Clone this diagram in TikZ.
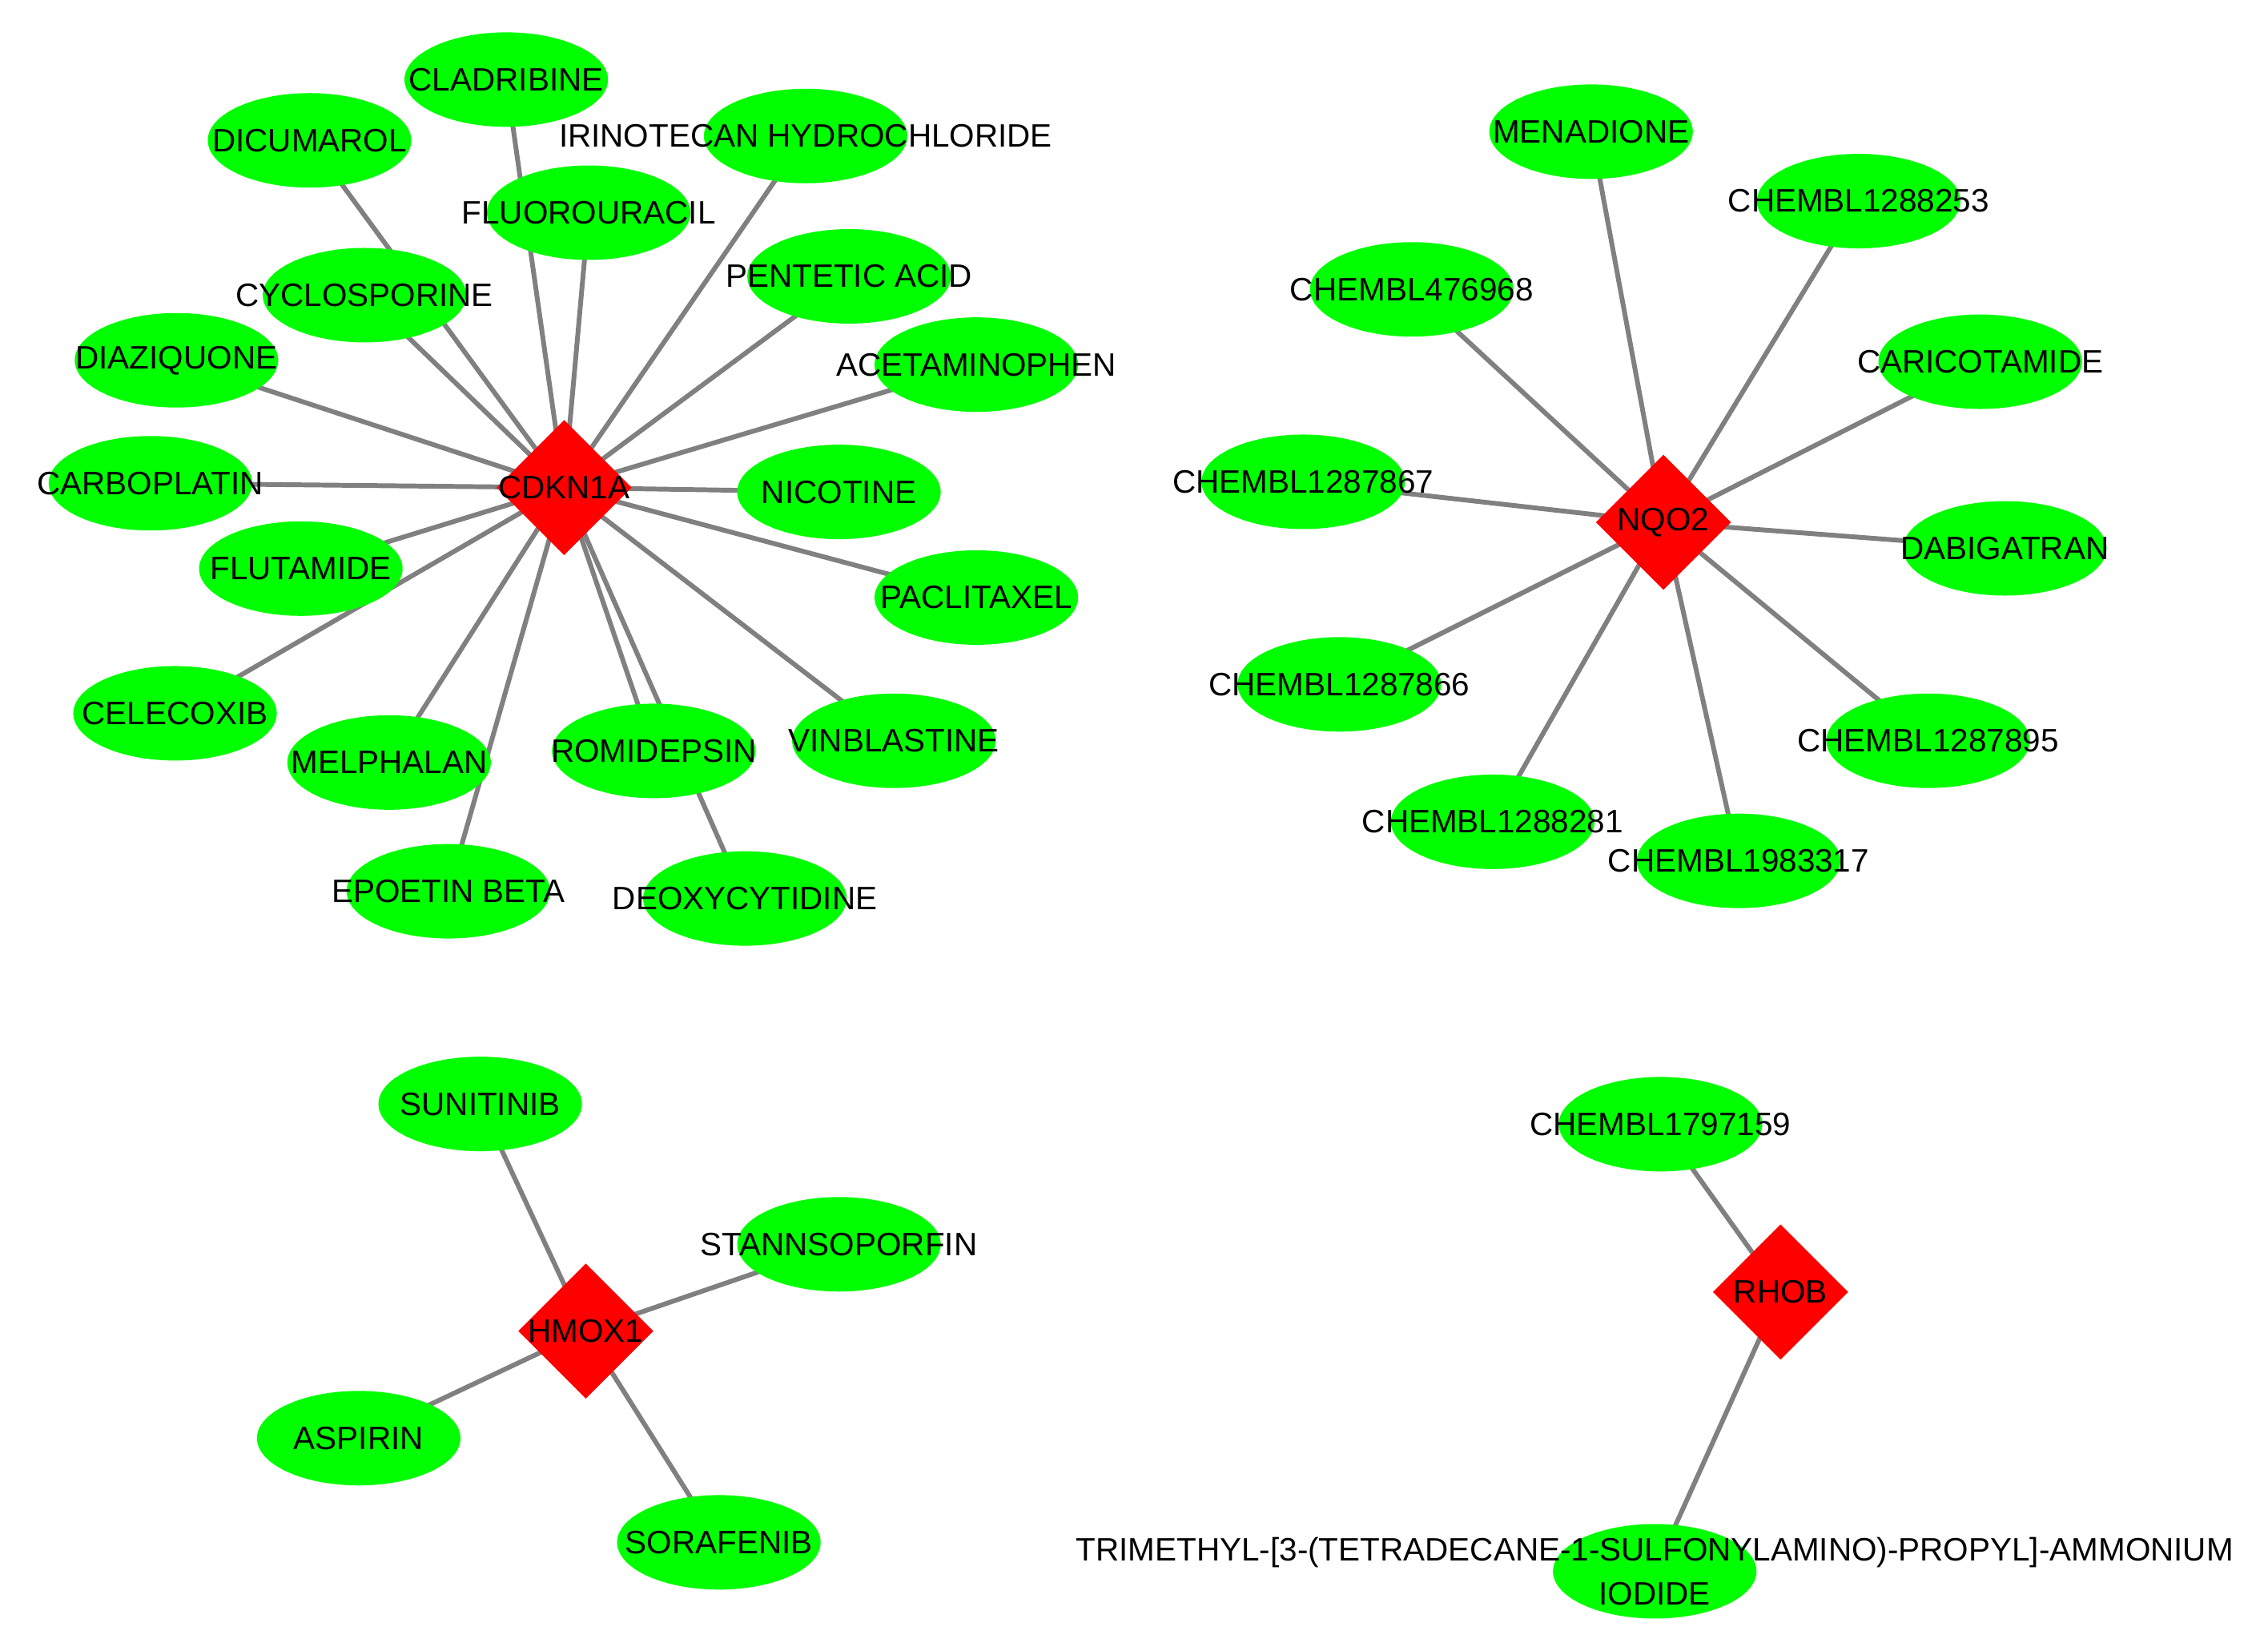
\documentclass[tikz,border=0pt]{standalone}
\usepackage{fontspec}
\setmainfont{Liberation Sans}
\usetikzlibrary{shapes.geometric,backgrounds}
\definecolor{ngreen}{RGB}{0,255,0}
\definecolor{nred}{RGB}{255,0,0}
\definecolor{egray}{RGB}{128,128,128}
\tikzset{
  drug/.style={ellipse, fill=ngreen, minimum width=140.7pt, minimum height=65.3pt, inner sep=0pt},
  gene/.style={diamond, fill=nred, minimum width=93.5pt, minimum height=93.5pt, inner sep=0pt},
  lbl/.style={font=\fontsize{22.4}{30.2}\selectfont, text=black, inner sep=0pt},
  link/.style={draw=egray, line width=3.3pt},
}
\newcommand{\drugnode}[3]{\node[drug, label={[lbl]center:#3}] (#1) at (#2) {};}
\begin{document}
\begin{tikzpicture}[x=1pt,y=-1pt]
\useasboundingbox (0,0) rectangle (1568,1141);
% ---------- CDKN1A ----------
\node[gene, label={[lbl]center:CDKN1A}] (cdkn) at (390,337) {};
\drugnode{clad}{350,55}{CLADRIBINE}
\drugnode{dicu}{214,97}{DICUMAROL}
\drugnode{irin}{557,94}{IRINOTECAN HYDROCHLORIDE}
\drugnode{fluo}{407,147}{FLUOROURACIL}
\drugnode{cycl}{252,204}{CYCLOSPORINE}
\drugnode{pent}{587,191}{PENTETIC ACID}
\drugnode{diaz}{122,249}{DIAZIQUONE}
\drugnode{acet}{675,252}{ACETAMINOPHEN}
\drugnode{carb}{104,334}{CARBOPLATIN}
\drugnode{nico}{580,340}{NICOTINE}
\drugnode{flut}{208,393}{FLUTAMIDE}
\drugnode{pacl}{675,413}{PACLITAXEL}
\drugnode{cele}{121,493}{CELECOXIB}
\drugnode{melp}{269,527}{MELPHALAN}
\drugnode{romi}{452,519}{ROMIDEPSIN}
\drugnode{vinb}{618,512}{VINBLASTINE}
\drugnode{epoe}{310,616}{EPOETIN BETA}
\drugnode{deox}{515,621}{DEOXYCYTIDINE}
% ---------- NQO2 ----------
\node[gene, label={[lbl]center:NQO2}] (nqo) at (1150,361) {};
\drugnode{mena}{1100,91}{MENADIONE}
\drugnode{c253}{1285,139}{CHEMBL1288253}
\drugnode{c968}{976,200}{CHEMBL476968}
\drugnode{cari}{1369,250}{CARICOTAMIDE}
\drugnode{c867}{901,333}{CHEMBL1287867}
\drugnode{dabi}{1386,379}{DABIGATRAN}
\drugnode{c866}{926,473}{CHEMBL1287866}
\drugnode{c895}{1333,512}{CHEMBL1287895}
\drugnode{c281}{1032,568}{CHEMBL1288281}
\drugnode{c317}{1202,595}{CHEMBL1983317}
% ---------- HMOX1 ----------
\node[gene, label={[lbl]center:HMOX1}] (hmox) at (405,920) {};
\drugnode{suni}{332,763}{SUNITINIB}
\drugnode{stan}{580,860}{STANNSOPORFIN}
\drugnode{aspi}{248,994}{ASPIRIN}
\drugnode{sora}{497,1066}{SORAFENIB}
% ---------- RHOB ----------
\node[gene, label={[lbl]center:RHOB}] (rhob) at (1231,893) {};
\drugnode{c159}{1148,777}{CHEMBL1797159}
\node[drug] (trim) at (1144,1086) {};
\node[lbl, align=center] (trimlbl) at (trim.center) {TRIMETHYL-[3-(TETRADECANE-1-SULFONYLAMINO)-PROPYL]-AMMONIUM\\IODIDE};
% ---------- edges ----------
\begin{scope}[on background layer]
\foreach \d in {clad,dicu,irin,fluo,cycl,pent,diaz,acet,carb,nico,flut,pacl,cele,melp,romi,vinb,epoe,deox}
  \draw[link] (cdkn.center) -- (\d.center);
\foreach \d in {mena,c253,c968,cari,c867,dabi,c866,c895,c281,c317}
  \draw[link] (nqo.center) -- (\d.center);
\foreach \d in {suni,stan,aspi,sora}
  \draw[link] (hmox.center) -- (\d.center);
\foreach \d in {c159,trim}
  \draw[link] (rhob.center) -- (\d.center);
\end{scope}
\end{tikzpicture}
\end{document}
